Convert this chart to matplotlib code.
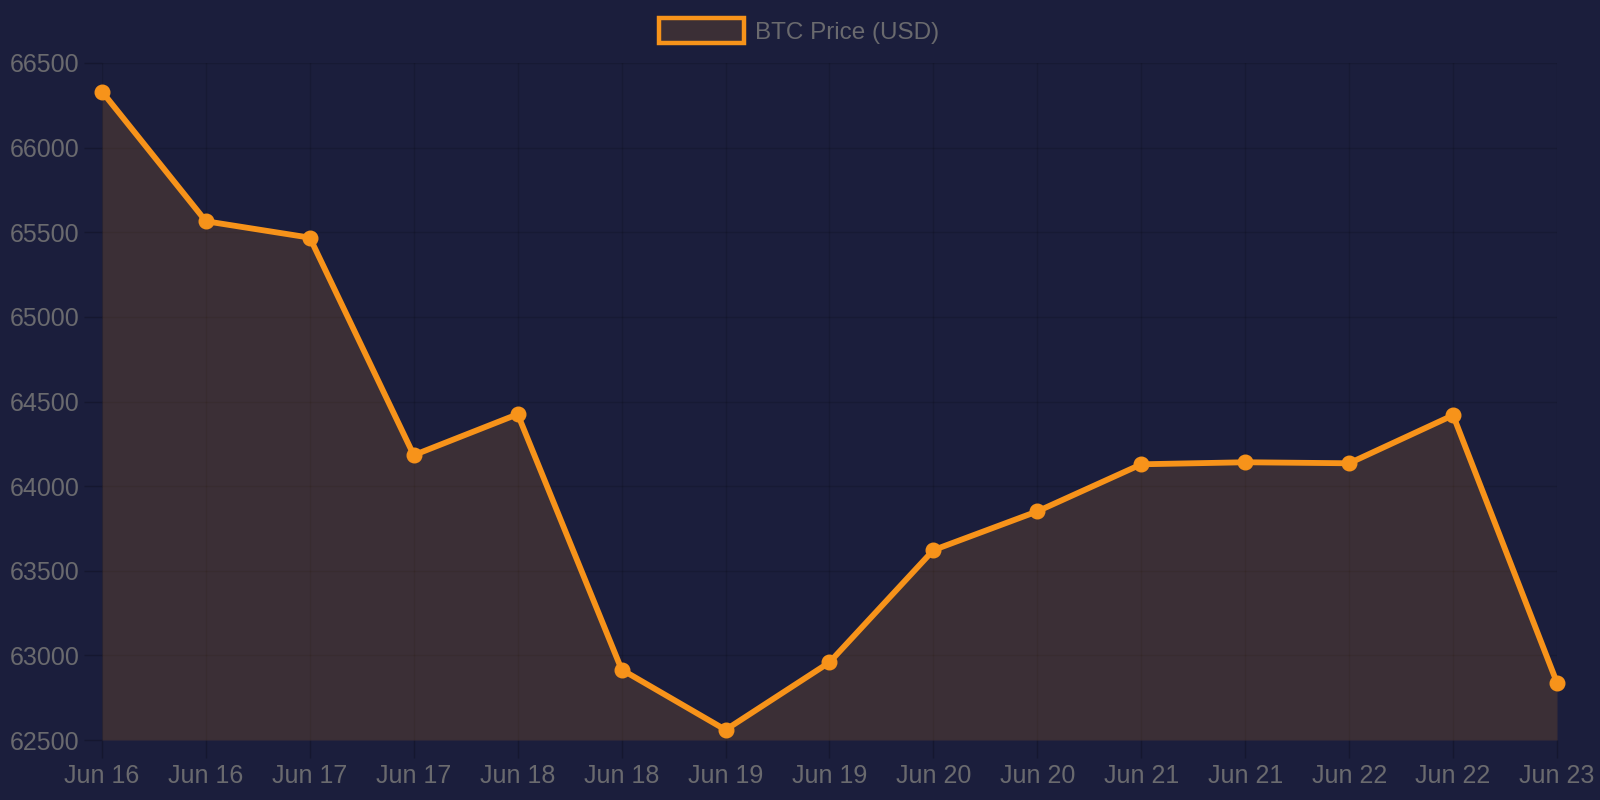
import numpy as np
import matplotlib.pyplot as plt
from matplotlib.patches import Patch

plt.rcParams['font.family'] = ['Liberation Sans', 'DejaVu Sans']

# data
labels = ['Jun 16', 'Jun 16', 'Jun 17', 'Jun 17', 'Jun 18', 'Jun 18', 'Jun 19', 'Jun 19',
          'Jun 20', 'Jun 20', 'Jun 21', 'Jun 21', 'Jun 22', 'Jun 22', 'Jun 23']
price = [66331, 65565, 65468, 64183, 64425, 62916, 62560, 62959,
         63622, 63851, 64129, 64141, 64135, 64419, 62838]
yticks = [62500, 63000, 63500, 64000, 64500, 65000, 65500, 66000, 66500]

bg = '#1b1e3c'
orange = '#f7931a'
txt = '#6a6a6e'
gridc = '#15172f'

fig = plt.figure(figsize=(16, 8), dpi=100, facecolor=bg)
ax = fig.add_axes([102/1600, 1-740/800, (1557-102)/1600, (740-63)/800])
ax.set_facecolor(bg)

x = np.arange(len(price))
ax.fill_between(x, price, 62500, color=orange, alpha=0.15, lw=0, zorder=2)
ax.plot(x, price, color=orange, lw=4.2, marker='o', ms=10.5, zorder=3, clip_on=False)

ax.set_xlim(0, len(price)-1)
ax.set_ylim(62500, 66500)
ax.set_xticks(x)
ax.set_xticklabels(labels)
ax.set_yticks(yticks)
ax.set_yticklabels([str(v) for v in yticks])

ax.grid(True, color='black', alpha=0.13, lw=1)
ax.set_axisbelow(True)
for s in ax.spines.values():
    s.set_visible(False)
ax.tick_params(axis='x', length=13, width=1, color=gridc, labelcolor=txt, labelsize=18, pad=4)
ax.tick_params(axis='y', length=13, width=1, color=gridc, labelcolor=txt, labelsize=18, pad=3)

handle = Patch(facecolor='#3b2f36', edgecolor=orange, linewidth=3.2)
fig.legend([handle], ['BTC Price (USD)'], loc='center', bbox_to_anchor=(0.4995, 0.961),
           frameon=False, fontsize=17.5, labelcolor=txt, handlelength=3.5,
           handleheight=1.2, handletextpad=0.45)

fig.savefig('out.png', dpi=100, facecolor=bg)
